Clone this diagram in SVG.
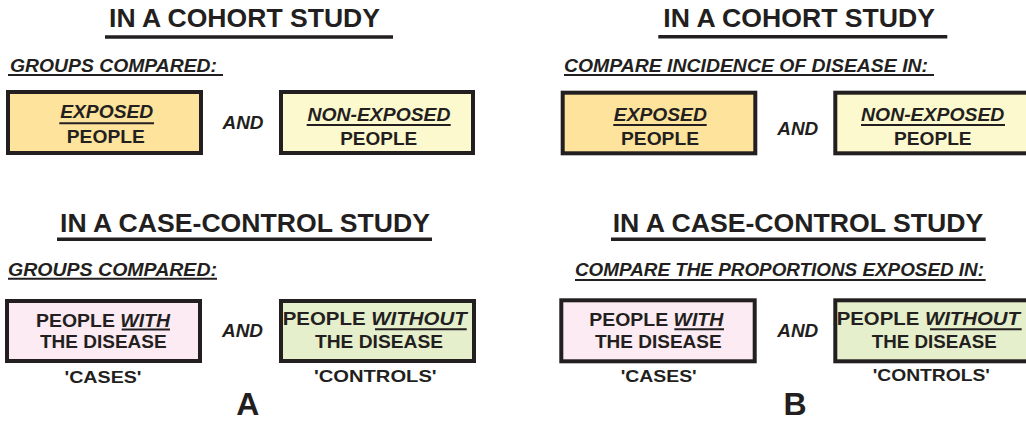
<svg xmlns="http://www.w3.org/2000/svg" width="1026" height="423" viewBox="0 0 1026 423">
<style>
text{font-family:"Liberation Sans",Arial,sans-serif;font-weight:bold;fill:#231F20;}
.title{font-size:25.5px;text-anchor:middle;}
.sub{font-size:18px;font-style:italic;}
.bt{font-size:18.5px;text-anchor:middle;}
.it{font-style:italic;}
.and{font-size:18.5px;font-style:italic;text-anchor:middle;}
.lab{font-size:16.5px;text-anchor:middle;}
.big{font-size:32px;text-anchor:middle;}
.box{stroke:#231F20;stroke-width:4;}
.ul{stroke:#231F20;stroke-width:3.5;}
.ul2{stroke:#231F20;stroke-width:2;}
.exp{fill:#FDE39B;}
.non{fill:#FDF9CE;}
.case{fill:#FCEBF3;}
.ctrl{fill:#E6EFCC;}
</style>
<g id="panelA">
  <g id="a-cohort-title">
    <text class="title" x="244.5" y="27.3" textLength="271" lengthAdjust="spacingAndGlyphs">IN A COHORT STUDY</text>
    <line class="ul" x1="105" y1="37" x2="393" y2="37"/>
  </g>
  <g id="a-cohort-sub">
    <text class="sub" x="10" y="71.7" textLength="207" lengthAdjust="spacingAndGlyphs">GROUPS COMPARED:</text>
    <line class="ul2" x1="8" y1="75" x2="223" y2="75"/>
  </g>
  <g id="a-exposed">
    <rect class="box exp" x="8" y="92" width="193" height="61"/>
    <text class="bt it" x="106.7" y="118" textLength="93" lengthAdjust="spacingAndGlyphs">EXPOSED</text>
    <line class="ul2" x1="59.3" y1="123.3" x2="154" y2="123.3"/>
    <text class="bt" x="105.8" y="143" textLength="78" lengthAdjust="spacingAndGlyphs">PEOPLE</text>
  </g>
  <g id="a-and1"><text class="and" x="243" y="129" textLength="41" lengthAdjust="spacingAndGlyphs">AND</text></g>
  <g id="a-nonexposed">
    <rect class="box non" x="281" y="92" width="192" height="61"/>
    <text class="bt it" x="379" y="121" textLength="143" lengthAdjust="spacingAndGlyphs">NON-EXPOSED</text>
    <line class="ul2" x1="306.7" y1="125" x2="450.7" y2="125"/>
    <text class="bt" x="378.7" y="145" textLength="77" lengthAdjust="spacingAndGlyphs">PEOPLE</text>
  </g>
  <g id="a-cc-title">
    <text class="title" x="245" y="231.7" textLength="370" lengthAdjust="spacingAndGlyphs">IN A CASE-CONTROL STUDY</text>
    <line class="ul" x1="57" y1="239.3" x2="432" y2="239.3"/>
  </g>
  <g id="a-cc-sub">
    <text class="sub" x="8" y="276" textLength="209" lengthAdjust="spacingAndGlyphs">GROUPS COMPARED:</text>
    <line class="ul2" x1="8" y1="278.7" x2="217" y2="278.7"/>
  </g>
  <g id="a-cases">
    <rect class="box case" x="7" y="301" width="193" height="60"/>
    <text class="bt" x="103" y="326.7" textLength="134" lengthAdjust="spacingAndGlyphs">PEOPLE <tspan class="it">WITH</tspan></text>
    <line class="ul2" x1="121.7" y1="329.5" x2="170" y2="329.5"/>
    <text class="bt" x="103.3" y="348.3" textLength="126.7" lengthAdjust="spacingAndGlyphs">THE DISEASE</text>
    <text class="lab" x="103" y="382.7" textLength="77" lengthAdjust="spacingAndGlyphs">'CASES'</text>
  </g>
  <g id="a-and2"><text class="and" x="242.5" y="337" textLength="41" lengthAdjust="spacingAndGlyphs">AND</text></g>
  <g id="a-controls">
    <rect class="box ctrl" x="281" y="301" width="193" height="60"/>
    <text class="bt" x="374.7" y="325" textLength="184" lengthAdjust="spacingAndGlyphs">PEOPLE <tspan class="it">WITHOUT</tspan></text>
    <line class="ul2" x1="375" y1="329.3" x2="466.7" y2="329.3"/>
    <text class="bt" x="379" y="348" textLength="128" lengthAdjust="spacingAndGlyphs">THE DISEASE</text>
    <text class="lab" x="375.3" y="381.7" textLength="122.7" lengthAdjust="spacingAndGlyphs">'CONTROLS'</text>
  </g>
  <g id="a-letter"><text class="big" x="247.7" y="415">A</text></g>
</g>
<g id="panelB">
  <g id="b-cohort-title">
    <text class="title" x="799.2" y="27.3" textLength="271.7" lengthAdjust="spacingAndGlyphs">IN A COHORT STUDY</text>
    <line class="ul" x1="658.3" y1="36.7" x2="947.3" y2="36.7"/>
  </g>
  <g id="b-cohort-sub">
    <text class="sub" x="564" y="71.7" textLength="364" lengthAdjust="spacingAndGlyphs">COMPARE INCIDENCE OF DISEASE IN:</text>
    <line class="ul2" x1="564" y1="75" x2="934" y2="75"/>
  </g>
  <g id="b-exposed">
    <rect class="box exp" x="562.7" y="92.7" width="192.6" height="60.6"/>
    <text class="bt it" x="660.3" y="120.7" textLength="93" lengthAdjust="spacingAndGlyphs">EXPOSED</text>
    <line class="ul2" x1="613.3" y1="125" x2="706.7" y2="125"/>
    <text class="bt" x="660" y="145" textLength="78" lengthAdjust="spacingAndGlyphs">PEOPLE</text>
  </g>
  <g id="b-and1"><text class="and" x="797.8" y="135" textLength="41" lengthAdjust="spacingAndGlyphs">AND</text></g>
  <g id="b-nonexposed">
    <rect class="box non" x="835.3" y="92.7" width="200" height="60.6"/>
    <text class="bt it" x="932.7" y="120.7" textLength="143.3" lengthAdjust="spacingAndGlyphs">NON-EXPOSED</text>
    <line class="ul2" x1="861" y1="125" x2="1005" y2="125"/>
    <text class="bt" x="932.8" y="145" textLength="77.7" lengthAdjust="spacingAndGlyphs">PEOPLE</text>
  </g>
  <g id="b-cc-title">
    <text class="title" x="798" y="232.3" textLength="370.6" lengthAdjust="spacingAndGlyphs">IN A CASE-CONTROL STUDY</text>
    <line class="ul" x1="611" y1="239.3" x2="985.7" y2="239.3"/>
  </g>
  <g id="b-cc-sub">
    <text class="sub" x="575" y="276" textLength="409" lengthAdjust="spacingAndGlyphs">COMPARE THE PROPORTIONS EXPOSED IN:</text>
    <line class="ul2" x1="575" y1="280" x2="985.7" y2="280"/>
  </g>
  <g id="b-cases">
    <rect class="box case" x="561.3" y="300.3" width="193.4" height="61"/>
    <text class="bt" x="656.3" y="326" textLength="134" lengthAdjust="spacingAndGlyphs">PEOPLE <tspan class="it">WITH</tspan></text>
    <line class="ul2" x1="674.3" y1="329.3" x2="724" y2="329.3"/>
    <text class="bt" x="658.3" y="348.3" textLength="126.7" lengthAdjust="spacingAndGlyphs">THE DISEASE</text>
    <text class="lab" x="658.7" y="381.7" textLength="76" lengthAdjust="spacingAndGlyphs">'CASES'</text>
  </g>
  <g id="b-and2"><text class="and" x="797.8" y="336.7" textLength="41" lengthAdjust="spacingAndGlyphs">AND</text></g>
  <g id="b-controls">
    <rect class="box ctrl" x="835.3" y="300.3" width="200" height="61"/>
    <text class="bt" x="928.3" y="325" textLength="183.3" lengthAdjust="spacingAndGlyphs">PEOPLE <tspan class="it">WITHOUT</tspan></text>
    <line class="ul2" x1="930" y1="329.3" x2="1021.7" y2="329.3"/>
    <text class="bt" x="934.2" y="348" textLength="125" lengthAdjust="spacingAndGlyphs">THE DISEASE</text>
    <text class="lab" x="931.3" y="381" textLength="117.3" lengthAdjust="spacingAndGlyphs">'CONTROLS'</text>
  </g>
  <g id="b-letter"><text class="big" x="795" y="415">B</text></g>
</g>
<g id="connectors"></g>
</svg>
